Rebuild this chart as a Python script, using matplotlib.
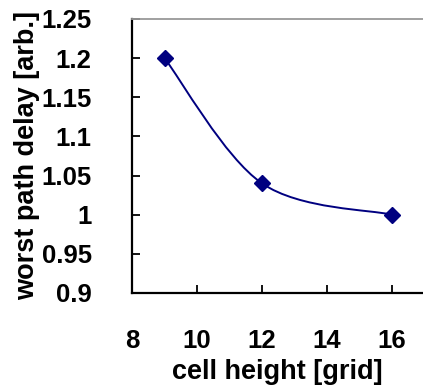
import matplotlib.pyplot as plt
from matplotlib.path import Path
from matplotlib.patches import PathPatch

plt.rcParams['font.family'] = ['Liberation Sans', 'DejaVu Sans']
plt.rcParams['font.weight'] = 'bold'

cell_height = [9, 12, 16]
delay = [1.2, 1.04, 1.0]
x_ticks = [8, 10, 12, 14, 16]
y_ticks = [0.9, 0.95, 1.0, 1.05, 1.1, 1.15, 1.2, 1.25]
y_labels = ['0.9', '0.95', '1', '1.05', '1.1', '1.15', '1.2', '1.25']

NAVY = '#000080'


def smooth_path(xs, ys):
    # Excel style smoothed line: cubic bezier segments through each point
    pts = list(zip(xs, ys))
    verts = [pts[0]]
    codes = [Path.MOVETO]
    n = len(pts)
    for i in range(n - 1):
        p0 = pts[i - 1] if i > 0 else pts[i]
        p1 = pts[i]
        p2 = pts[i + 1]
        p3 = pts[i + 2] if i + 2 < n else pts[i + 1]
        c1 = (p1[0] + (p2[0] - p0[0]) / 6, p1[1] + (p2[1] - p0[1]) / 6)
        c2 = (p2[0] - (p3[0] - p1[0]) / 6, p2[1] - (p3[1] - p1[1]) / 6)
        verts += [c1, c2, p2]
        codes += [Path.CURVE4] * 3
    return Path(verts, codes)


fig = plt.figure(figsize=(4.23, 3.86), dpi=100)
ax = fig.add_axes([132 / 423, 1 - 293 / 386, 291 / 423, 274 / 386])

ax.add_patch(PathPatch(smooth_path(cell_height, delay), facecolor='none',
                       edgecolor=NAVY, lw=1.4))
ax.plot(cell_height, delay, linestyle='none', marker='D', markersize=8,
        color=NAVY)

ax.set_xlim(8, 16.95)
ax.set_ylim(0.9, 1.25)
ax.set_xticks(x_ticks)
ax.set_yticks(y_ticks)
ax.set_yticklabels(y_labels)
ax.tick_params(direction='in', length=6, width=1.3, labelsize=18.5)
ax.tick_params(axis='x', pad=26)
ax.tick_params(axis='y', pad=29)

for side in ['left', 'bottom']:
    ax.spines[side].set_linewidth(1.6)
ax.spines['top'].set_color('#999999')
ax.spines['top'].set_linewidth(1.3)
ax.spines['right'].set_visible(False)

ax.set_xlabel('cell height [grid]', fontsize=19.5, fontweight='bold', labelpad=4)
ax.set_ylabel('worst path delay [arb.]', fontsize=19.5, fontweight='bold', labelpad=1)

fig.savefig('out.png', dpi=100)
